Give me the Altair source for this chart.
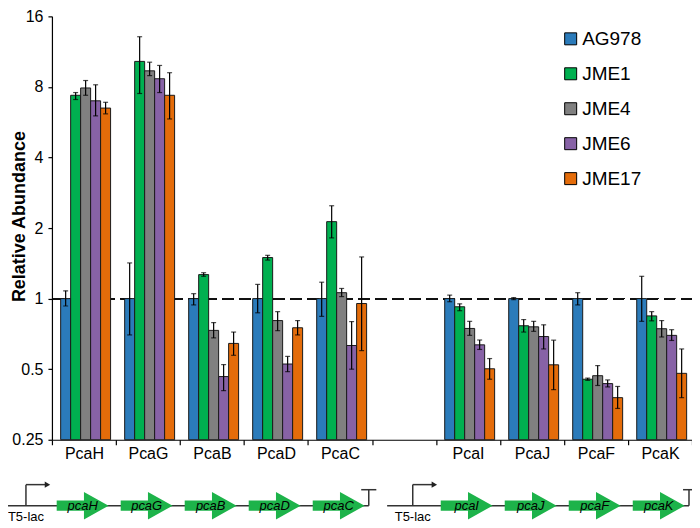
import altair as alt
import pandas as pd

# ---------------- data ----------------
categories = ["PcaH", "PcaG", "PcaB", "PcaD", "PcaC", "PcaI", "PcaJ", "PcaF", "PcaK"]
slots = ["PcaH", "PcaG", "PcaB", "PcaD", "PcaC", " ", "PcaI", "PcaJ", "PcaF", "PcaK"]
strains = ["AG978", "JME1", "JME4", "JME6", "JME17"]
colors = ["#2B7BBA", "#00B050", "#808080", "#8762A6", "#E46C0A"]
genes = ["pcaH", "pcaG", "pcaB", "pcaD", "pcaC", "pcaI", "pcaJ", "pcaF", "pcaK"]

ag978 = [1.0, 1.0, 1.0, 1.0, 1.0, 1.0, 1.0, 1.0, 1.0]
ag978_lo = [0.93, 0.70, 0.94, 0.87, 0.84, 0.97, 0.99, 0.94, 0.80]
ag978_hi = [1.08, 1.42, 1.05, 1.15, 1.175, 1.035, 1.01, 1.06, 1.245]

jme1 = [7.37, 10.28, 1.266, 1.497, 2.13, 0.923, 0.766, 0.453, 0.844]
jme1_lo = [7.07, 7.5, 1.245, 1.46, 1.816, 0.888, 0.72, 0.448, 0.804]
jme1_hi = [7.57, 13.1, 1.29, 1.53, 2.49, 0.95, 0.814, 0.458, 0.88]

jme4 = [7.92, 9.37, 0.732, 0.806, 1.06, 0.746, 0.758, 0.469, 0.744]
jme4_lo = [7.37, 8.94, 0.68, 0.73, 1.02, 0.697, 0.725, 0.426, 0.686]
jme4_hi = [8.52, 10.2, 0.79, 0.88, 1.105, 0.80, 0.80, 0.518, 0.806]

jme6 = [6.98, 8.67, 0.465, 0.526, 0.631, 0.635, 0.689, 0.434, 0.697]
jme6_lo = [6.02, 7.57, 0.405, 0.488, 0.50, 0.607, 0.61, 0.42, 0.663]
jme6_hi = [8.17, 9.88, 0.523, 0.567, 0.798, 0.666, 0.773, 0.45, 0.737]

jme17 = [6.5, 7.37, 0.644, 0.751, 0.953, 0.502, 0.522, 0.378, 0.48]
jme17_lo = [6.14, 5.84, 0.573, 0.70, 0.60, 0.453, 0.409, 0.34, 0.378]
jme17_hi = [6.88, 9.2, 0.72, 0.806, 1.506, 0.555, 0.665, 0.422, 0.61]

series = {
    "AG978": (ag978, ag978_lo, ag978_hi),
    "JME1": (jme1, jme1_lo, jme1_hi),
    "JME4": (jme4, jme4_lo, jme4_hi),
    "JME6": (jme6, jme6_lo, jme6_hi),
    "JME17": (jme17, jme17_lo, jme17_hi),
}

rows = []
for s in strains:
    v, lo, hi = series[s]
    for i, c in enumerate(categories):
        rows.append({"cat": c, "strain": s, "value": v[i], "lo": lo[i], "hi": hi[i]})
df = pd.DataFrame(rows)

# ---------------- main chart ----------------
x_enc = alt.X(
    "cat:N",
    sort=slots,
    scale=alt.Scale(domain=slots, paddingInner=0, paddingOuter=0),
    axis=alt.Axis(
        title=None, tickBand="extent", labelAngle=0, labelFontSize=16,
        labelPadding=1, tickSize=5, domainColor="black", tickColor="black",
        labelColor="black", domainWidth=1.2, tickWidth=1.2,
    ),
)
xo_enc = alt.XOffset(
    "strain:N", sort=strains,
    scale=alt.Scale(domain=strains, paddingInner=0, paddingOuter=0.705, align=0.62),
)
y_scale = alt.Scale(type="log", base=2, domain=[0.25, 16], nice=False)

dash = alt.Chart(df).mark_rule(strokeDash=[11, 6], color="#111111", strokeWidth=1.2).encode(
    y=alt.datum(1, scale=y_scale)
)

bars = alt.Chart(df).mark_bar(stroke="#1a1a1a", strokeWidth=1).encode(
    x=x_enc,
    xOffset=xo_enc,
    y=alt.Y(
        "value:Q", scale=y_scale, stack=None,
        axis=alt.Axis(
            values=[0.25, 0.5, 1, 2, 4, 8, 16], format="~g", title="Relative Abundance",
            titleFontSize=18, titleFontWeight="bold", titleX=-27, titleY=200,
            titleBaseline="alphabetic", titleAngle=270, titleColor="black",
            grid=False, tickSize=4, labelPadding=5, labelFontSize=16,
            domainColor="black", tickColor="black", labelColor="black",
            domainWidth=1.2, tickWidth=1.2,
        ),
    ),
    y2=alt.datum(0.25),
    color=alt.Color(
        "strain:N", sort=strains,
        scale=alt.Scale(domain=strains, range=colors),
        legend=alt.Legend(
            title=None, orient="none", legendX=510, legendY=13,
            symbolType="square", symbolSize=144, symbolStrokeColor="black",
            symbolStrokeWidth=1, symbolOpacity=1, labelFontSize=19,
            labelColor="black", rowPadding=15, labelOffset=2,
        ),
    ),
)

err = alt.Chart(df).mark_rule(color="black", strokeWidth=1.2).encode(
    x=x_enc, xOffset=xo_enc, y=alt.Y("lo:Q", scale=y_scale), y2="hi:Q"
)
cap_lo = alt.Chart(df).mark_tick(color="black", size=5, thickness=1.2).encode(
    x=x_enc, xOffset=xo_enc, y=alt.Y("lo:Q", scale=y_scale)
)
cap_hi = alt.Chart(df).mark_tick(color="black", size=5, thickness=1.2).encode(
    x=x_enc, xOffset=xo_enc, y=alt.Y("hi:Q", scale=y_scale)
)

main = alt.layer(dash, bars, err, cap_lo, cap_hi)

# ---------------- gene diagram (x in category-slot units, y in plot fractions) ----------------
LINE_Y = -0.1557
PROM_TOP = -0.106
TERM_TOP = -0.118
LABEL_Y = -0.1816

segments = pd.DataFrame([
    {"x": -0.686, "x2": 4.95, "y": LINE_Y, "y2": LINE_Y},
    {"x": 5.237, "x2": 9.953, "y": LINE_Y, "y2": LINE_Y},
    {"x": -0.406, "x2": -0.406, "y": LINE_Y, "y2": PROM_TOP},
    {"x": -0.406, "x2": -0.09, "y": PROM_TOP, "y2": PROM_TOP},
    {"x": 5.637, "x2": 5.637, "y": LINE_Y, "y2": PROM_TOP},
    {"x": 5.637, "x2": 5.955, "y": PROM_TOP, "y2": PROM_TOP},
    {"x": 4.95, "x2": 4.95, "y": LINE_Y, "y2": TERM_TOP},
    {"x": 4.832, "x2": 5.068, "y": TERM_TOP, "y2": TERM_TOP},
    {"x": 9.953, "x2": 9.953, "y": LINE_Y, "y2": TERM_TOP},
    {"x": 9.86, "x2": 10.06, "y": TERM_TOP, "y2": TERM_TOP},
])
heads = pd.DataFrame([{"x": -0.07, "y": PROM_TOP}, {"x": 5.975, "y": PROM_TOP}])
promoters = pd.DataFrame([
    {"x": -0.406, "y": LABEL_Y, "label": "T5-lac"},
    {"x": 5.637, "y": LABEL_Y, "label": "T5-lac"},
])
arrows = pd.DataFrame([
    {"x": slots.index(c) + 0.48, "y": LINE_Y, "gene": g} for c, g in zip(categories, genes)
])

dx = alt.Scale(domain=[0, 10], nice=False, zero=False)
dy = alt.Scale(domain=[0, 1], nice=False, zero=False)

seg_layer = alt.Chart(segments).mark_rule(color="#333333", strokeWidth=1.5).encode(
    x=alt.X("x:Q", scale=dx, axis=None), x2="x2:Q",
    y=alt.Y("y:Q", scale=dy, axis=None), y2="y2:Q",
)
head_layer = alt.Chart(heads).mark_point(
    shape="triangle-right", filled=True, size=40, color="#222222", opacity=1
).encode(x=alt.X("x:Q", scale=dx, axis=None), y=alt.Y("y:Q", scale=dy, axis=None))

ARROW = "M-1,-0.2L0.05,-0.2L0.05,-0.53L1,0L0.05,0.53L0.05,0.2L-1,0.2Z"
arrow_layer = alt.Chart(arrows).mark_point(
    shape=ARROW, size=2704, filled=True, color="#1DB34A", opacity=1, strokeWidth=0
).encode(x=alt.X("x:Q", scale=dx, axis=None), y=alt.Y("y:Q", scale=dy, axis=None))
gene_text = alt.Chart(arrows).mark_text(
    fontStyle="italic", fontSize=13, color="black", baseline="middle"
).encode(x=alt.X("x:Q", scale=dx, axis=None), y=alt.Y("y:Q", scale=dy, axis=None), text="gene:N")
prom_text = alt.Chart(promoters).mark_text(fontSize=13, color="black", baseline="middle").encode(
    x=alt.X("x:Q", scale=dx, axis=None), y=alt.Y("y:Q", scale=dy, axis=None), text="label:N"
)

diagram = alt.layer(seg_layer, head_layer, arrow_layer, gene_text, prom_text)

chart = (
    alt.layer(main, diagram)
    .resolve_scale(x="independent", y="independent")
    .properties(
        width=641, height=424,
        padding={"left": 44, "top": 8, "right": 0, "bottom": 88},
        autosize=alt.AutoSizeParams(type="none"),
    )
    .configure(font="Liberation Sans")
    .configure_view(stroke=None)
)

chart.save("out.html", embed_options={"renderer": "svg", "actions": False})
